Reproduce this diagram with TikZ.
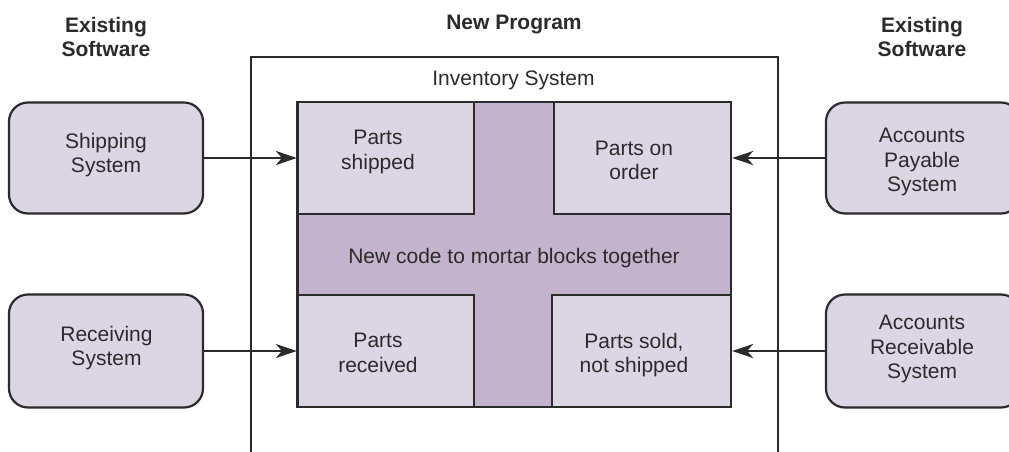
\documentclass[tikz,border=0pt]{standalone}
\usepackage{fontspec}
\setmainfont{Liberation Sans}
\usetikzlibrary{arrows.meta}
\definecolor{inkc}{HTML}{2B2B2B}
\definecolor{lightfill}{HTML}{DCD5E3}
\definecolor{darkfill}{HTML}{C3B3CC}
\begin{document}
\begin{tikzpicture}[x=1pt,y=-1pt,
  txt/.style={font=\fontsize{21}{24.5}\selectfont, text=inkc, align=center, inner sep=0pt, anchor=north},
  hdr/.style={txt, font=\fontsize{21}{24.5}\selectfont\bfseries},
  sysbox/.style={draw=inkc, fill=lightfill, line width=2.2pt, rounded corners=19pt,
                 minimum width=194pt, inner sep=0pt},
  partbox/.style={draw=inkc, fill=lightfill, line width=2.2pt, inner sep=0pt, minimum height=112pt},
  gluebox/.style={draw=inkc, fill=darkfill, line width=2.2pt, inner sep=0pt},
  arr/.style={draw=inkc, line width=2pt, -{Stealth[length=21pt,width=14pt,inset=6pt]}}]

\useasboundingbox (0,0) rectangle (1009,452);
\fill[white] (0,0) rectangle (1009,452);
\clip (0,0) rectangle (1009,452);

% column headings
\node[hdr] (hleft)  at (106,17) {Existing\\Software};
\node[hdr] (hmid)   at (514,15) {New Program};
\node[hdr] (hright) at (922,17) {Existing\\Software};

% frame of the new program, open at the bottom
\draw[inkc, line width=1.8pt] (251,470) -- (251,57) -- (778,57) -- (778,470);
\node[txt] (inv) at (513.5,71) {Inventory System};

% mortar between the blocks
\node[gluebox, minimum width=433.5pt, minimum height=305pt] (glue) at (514.25,254.5) {};
\node[txt] (gluetext) at (514,248) {New code to mortar blocks together};

% the four blocks
\node[partbox, minimum width=176pt] (pship)  at (386,158) {};
\node[partbox, minimum width=177pt] (porder) at (642.5,158) {};
\node[partbox, minimum width=176pt] (precv)  at (386,351) {};
\node[partbox, minimum width=179pt] (psold)  at (641.5,351) {};
\node[txt] (pshipt)  at (378,130)   {Parts\\shipped};
\node[txt] (pordert) at (634,140.5) {Parts on\\order};
\node[txt] (precvt)  at (378,333)   {Parts\\received};
\node[txt] (psoldt)  at (634,333)   {Parts sold,\\not shipped};

% existing systems
\node[sysbox, minimum height=111pt] (ship)  at (106,158) {};
\node[sysbox, minimum height=113pt] (recv)  at (106,351) {};
\node[sysbox, minimum height=111pt] (pay)   at (923,158) {};
\node[sysbox, minimum height=113pt] (arecv) at (923,351) {};
\node[txt] (shipt)  at (106,133)   {Shipping\\System};
\node[txt] (recvt)  at (106.5,326) {Receiving\\System};
\node[txt] (payt)   at (922,128)   {Accounts\\Payable\\System};
\node[txt] (arecvt) at (922,315)   {Accounts\\Receivable\\System};

% data flows into the blocks
\draw[arr] (ship)  -- (pship);
\draw[arr] (recv)  -- (precv);
\draw[arr] (pay)   -- (porder);
\draw[arr] (arecv) -- (psold);
\end{tikzpicture}
\end{document}
